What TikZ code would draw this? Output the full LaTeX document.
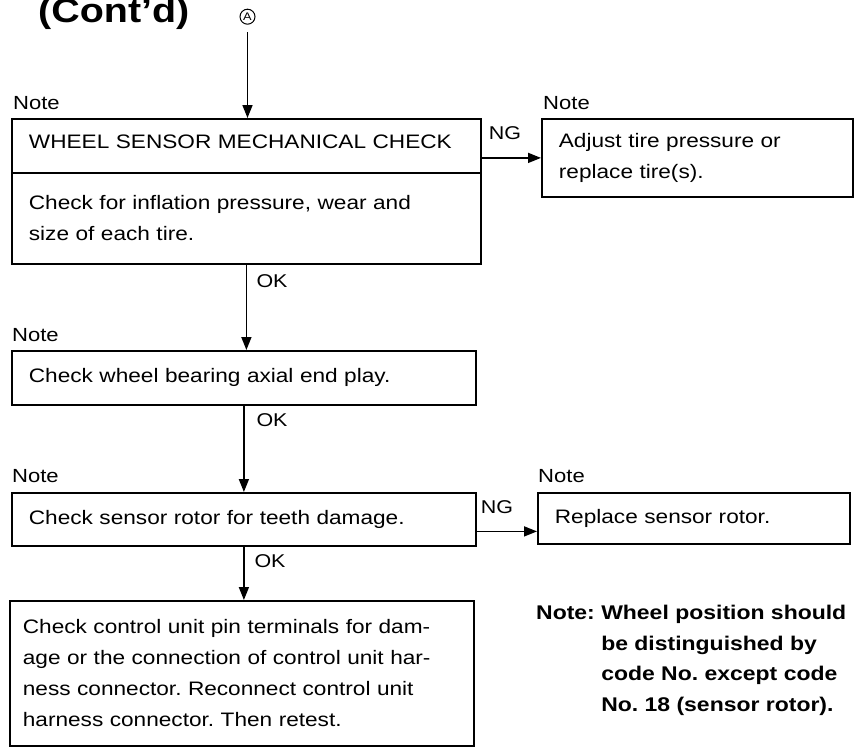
\documentclass[tikz,border=0pt]{standalone}
\usepackage{fontspec}
\setmainfont[FakeStretch=1.16]{Liberation Sans}
\usetikzlibrary{
    arrows.meta,
    calc,
    positioning
}
\definecolor{ink}{RGB}{0,0,0}
\tikzset{
    stepbox/.style={
        rectangle,
        draw=ink,
        line width=1.8pt,
        inner xsep=17pt,
        inner ysep=0pt,
        align=left,
        anchor=north west,
        font=\fontsize{19.5}{31}\selectfont,
        text=ink
    },
    notetag/.style={
        font=\fontsize{19}{19}\selectfont,
        text=ink,
        anchor=base west,
        inner sep=0pt
    },
    flowlabel/.style={
        font=\fontsize{18.5}{18.5}\selectfont,
        text=ink,
        inner sep=0pt
    },
    flowarrow/.style={
        -{Triangle[width=10pt,length=13pt]},
        draw=ink,
        line width=1.6pt
    },
    jumper/.style={
        circle,
        draw=ink,
        line width=1pt,
        minimum size=15pt,
        inner sep=0pt,
        font=\fontsize{11}{11}\selectfont
    },
    remark/.style={
        font=\bfseries\fontsize{19.8}{30.5}\selectfont,
        align=left,
        anchor=north west,
        inner sep=0pt,
        text=ink
    },
    paneltitle/.style={
        font=\bfseries\fontsize{34}{34}\selectfont,
        anchor=base west,
        inner sep=0pt,
        text=ink
    }
}

\begin{document}
\frenchspacing
\begin{tikzpicture}[x=1pt, y=-1pt]

\useasboundingbox[fill=white] (0,0) rectangle (861,747);

\node[paneltitle] (title) at (38,22) {(Cont'd)};
\node[jumper] (jumpA) at (247.5,16.7) {A};

% mechanical check and its NG branch
\node[stepbox, text width=435pt, text depth=8pt, minimum height=54pt] (sensorhead) at (11,118) {WHEEL SENSOR MECHANICAL CHECK};
\node[stepbox, text width=435pt, minimum height=91pt] (sensorbody) at (11,172) {Check for inflation pressure, wear and\\size of each tire.};
\node[stepbox, text width=277pt, minimum height=78pt] (tirefix) at (541,118) {Adjust tire pressure or\\replace tire(s).};

\node[stepbox, text width=430pt, minimum height=54pt] (bearing) at (11,350) {Check wheel bearing axial end play.};
\node[stepbox, text width=430pt, minimum height=53pt] (rotor) at (11,492) {Check sensor rotor for teeth damage.};
\node[stepbox, text width=278pt, minimum height=51pt] (rotorfix) at (537,492) {Replace sensor rotor.};
\node[stepbox, inner xsep=13pt, text width=438pt, minimum height=145pt] (harness) at (9,600) {Check control unit pin terminals for dam-\\age or the connection of control unit har-\\ness connector. Reconnect control unit\\harness connector. Then retest.};

% note tags
\node[notetag] (notehead) at ([xshift=2pt, yshift=9pt]sensorhead.north west) {Note};
\node[notetag] (notetire) at ([xshift=2pt, yshift=9pt]tirefix.north west) {Note};
\node[notetag] (notebearing) at ([xshift=1pt, yshift=9pt]bearing.north west) {Note};
\node[notetag] (noterotor) at ([xshift=1pt, yshift=10pt]rotor.north west) {Note};
\node[notetag] (noterotorfix) at ([xshift=1pt, yshift=10pt]rotorfix.north west) {Note};

% connectors
\draw[flowarrow, shorten <=7.5pt] (jumpA.south) -- (jumpA.south |- sensorhead.north);
\draw[flowarrow] (sensorbody.south) -- (sensorbody.south |- bearing.north);
\draw[flowarrow] (bearing.south) -- (bearing.south |- rotor.north);
\draw[flowarrow] (rotor.south) -- (rotor.south |- harness.north);
\draw[flowarrow] (sensorhead.east |- tirefix.west) -- (tirefix.west);
\draw[flowarrow] ([yshift=-12pt]rotor.east) -- ([yshift=-12pt]rotor.east -| rotorfix.west);

\node[flowlabel] (okone) at (272,281) {OK};
\node[flowlabel] (oktwo) at (272,420) {OK};
\node[flowlabel] (okthree) at (270,561) {OK};
\node[flowlabel] (ngone) at (505,133) {NG};
\node[flowlabel] (ngtwo) at (497,507) {NG};

\node[remark] (remark) at (536,605) {Note: Wheel position should\\\phantom{Note: }be distinguished by\\\phantom{Note: }code No. except code\\\phantom{Note: }No. 18 (sensor rotor).};

\end{tikzpicture}
\end{document}
